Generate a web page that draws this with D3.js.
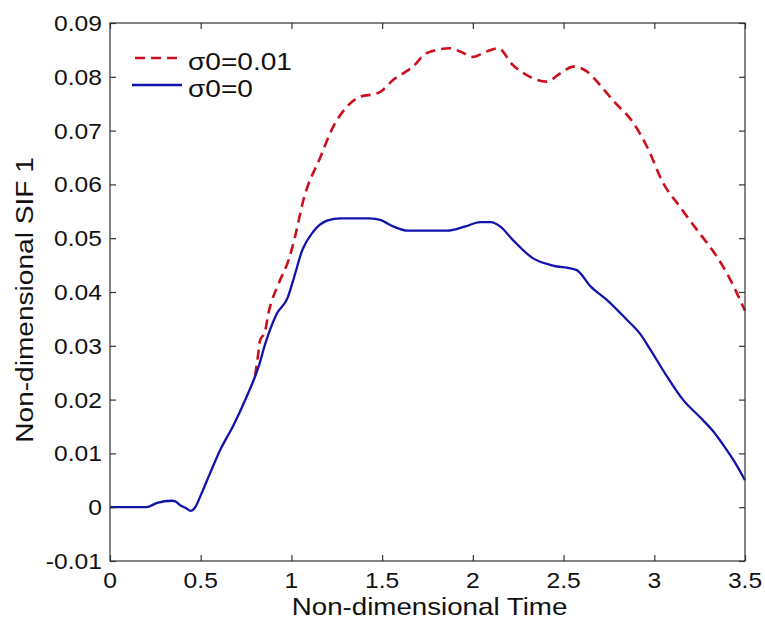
<!DOCTYPE html>
<html>
<head>
<meta charset="utf-8">
<script src="https://cdn.jsdelivr.net/npm/d3@7"></script>
<style>
  html, body { margin: 0; padding: 0; background: #fff; }
  svg text { font-family: "Liberation Sans", Arial, Helvetica, sans-serif; fill: #111; }
</style>
</head>
<body>
<svg id="chart" width="765" height="624"></svg>
<script>
// ---- data ----
const xTicks = [0, 0.5, 1, 1.5, 2, 2.5, 3, 3.5];
const xTickLabels = ["0", "0.5", "1", "1.5", "2", "2.5", "3", "3.5"];
const yTicks = [-0.01, 0, 0.01, 0.02, 0.03, 0.04, 0.05, 0.06, 0.07, 0.08, 0.09];
const yTickLabels = ["-0.01", "0", "0.01", "0.02", "0.03", "0.04", "0.05", "0.06", "0.07", "0.08", "0.09"];
const seriesNames = ["\u03c30=0.01", "\u03c30=0"];

const timeBlue = [0, 0.1, 0.2, 0.26, 0.34, 0.36, 0.385, 0.42, 0.445, 0.47, 0.5, 0.55, 0.61, 0.68, 0.75, 0.82, 0.855, 0.92, 0.98, 1.01, 1.06, 1.12, 1.2, 1.27, 1.43, 1.49, 1.56, 1.64, 1.86, 1.96, 2.04, 2.1, 2.15, 2.22, 2.33, 2.43, 2.57, 2.65, 2.74, 2.85, 2.92, 2.98, 3.07, 3.16, 3.25, 3.32, 3.4, 3.45, 3.5];
const sifBlue = [0, 0, 0, 0.0008, 0.0012, 0.0011, 0.0004, -0.0002, -0.0007, 0, 0.0022, 0.0062, 0.0108, 0.0152, 0.0203, 0.0262, 0.0303, 0.036, 0.039, 0.0422, 0.0478, 0.0512, 0.0533, 0.0537, 0.0537, 0.0534, 0.0522, 0.0514, 0.0514, 0.0522, 0.053, 0.053, 0.0522, 0.0497, 0.0463, 0.045, 0.0441, 0.041, 0.0385, 0.0348, 0.0323, 0.0292, 0.0243, 0.0199, 0.0168, 0.0143, 0.0106, 0.008, 0.005];

const timeRed = [0.8, 0.815, 0.827, 0.854, 0.873, 0.93, 0.985, 1.02, 1.066, 1.16, 1.23, 1.305, 1.378, 1.47, 1.49, 1.56, 1.67, 1.745, 1.874, 1.93, 2.0, 2.075, 2.14, 2.22, 2.315, 2.407, 2.48, 2.555, 2.628, 2.7, 2.775, 2.885, 2.96, 3.05, 3.14, 3.25, 3.32, 3.4, 3.5];
const sifRed = [0.0245, 0.028, 0.031, 0.0326, 0.036, 0.0416, 0.046, 0.0503, 0.0571, 0.0651, 0.0707, 0.0744, 0.0763, 0.0769, 0.0772, 0.0794, 0.0819, 0.0844, 0.0853, 0.0847, 0.0837, 0.0847, 0.0853, 0.0822, 0.08, 0.0791, 0.0806, 0.0819, 0.081, 0.0785, 0.0755, 0.0714, 0.067, 0.0602, 0.0559, 0.0509, 0.0478, 0.0435, 0.0365];

// ---- layout ----
const svg = d3.select("#chart");
const L = 110, T = 23, R = 745, B = 561;
const x = d3.scaleLinear().domain([0, 3.5]).range([L, R]);
const y = d3.scaleLinear().domain([-0.01, 0.09]).range([B, T]);
const axisColor = "#333";
const redColor = "#cc0f1c";
const blueColor = "#1212ac";

// curves
const line = d3.line().x(d => x(d[0])).y(d => y(d[1])).curve(d3.curveMonotoneX);
const blueData = timeBlue.map((t, i) => [t, sifBlue[i]]);
const redData = timeRed.map((t, i) => [t, sifRed[i]]);

svg.append("path").datum(redData).attr("d", line)
  .attr("fill", "none").attr("stroke", redColor).attr("stroke-width", 2.6)
  .attr("stroke-dasharray", "10,6");
svg.append("path").datum(blueData).attr("d", line)
  .attr("fill", "none").attr("stroke", blueColor).attr("stroke-width", 2.3);

// box + ticks
const g = svg.append("g");
g.append("rect").attr("x", L).attr("y", T).attr("width", R - L).attr("height", B - T)
  .attr("fill", "none").attr("stroke", axisColor).attr("stroke-width", 1.2);

const axB = d3.axisBottom(x).tickValues(xTicks).tickSizeInner(-6).tickSizeOuter(0).tickFormat("");
const axT = d3.axisTop(x).tickValues(xTicks).tickSizeInner(-6).tickSizeOuter(0).tickFormat("");
const axLft = d3.axisLeft(y).tickValues(yTicks).tickSizeInner(-6).tickSizeOuter(0).tickFormat("");
const axRgt = d3.axisRight(y).tickValues(yTicks).tickSizeInner(-6).tickSizeOuter(0).tickFormat("");
[[axB, `translate(0,${B})`], [axT, `translate(0,${T})`], [axLft, `translate(${L},0)`], [axRgt, `translate(${R},0)`]].forEach(([ax, tr]) => {
  const a = g.append("g").attr("transform", tr).call(ax);
  a.select(".domain").remove();
  a.selectAll("line").attr("stroke", axisColor).attr("stroke-width", 1.2);
});

function stretchedText(px, py, str, size, stretch, anchor, rot) {
  return svg.append("text")
    .attr("transform", `translate(${px},${py}) rotate(${rot || 0}) scale(${stretch},1)`)
    .attr("text-anchor", anchor)
    .attr("font-size", size)
    .text(str);
}

// tick labels
xTicks.forEach((v, i) => stretchedText(x(v), 588, xTickLabels[i], 22, 1.12, "middle"));
yTicks.forEach((v, i) => stretchedText(102, y(v) + 8, yTickLabels[i], 22, 1.12, "end"));

// axis titles
stretchedText((L + R) / 2 + 2, 615, "Non-dimensional Time", 24, 1.155, "middle");
stretchedText(33, 300, "Non-dimensional SIF 1", 24, 1.17, "middle", -90);

// legend
svg.append("line").attr("x1", 135).attr("x2", 182).attr("y1", 58).attr("y2", 58)
  .attr("stroke", redColor).attr("stroke-width", 2.6).attr("stroke-dasharray", "10,6");
svg.append("line").attr("x1", 132).attr("x2", 182).attr("y1", 85).attr("y2", 85)
  .attr("stroke", blueColor).attr("stroke-width", 2.3);
stretchedText(188, 70, seriesNames[0], 24, 1.17, "start");
stretchedText(188, 97, seriesNames[1], 24, 1.17, "start");
</script>
</body>
</html>
